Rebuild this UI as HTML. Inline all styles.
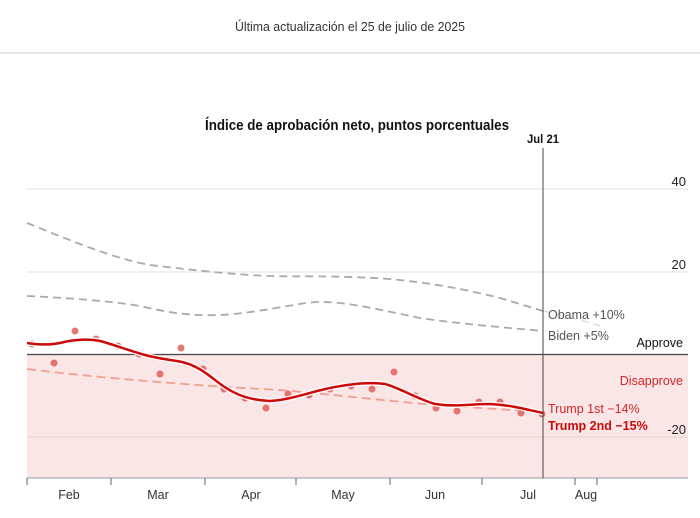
<!DOCTYPE html>
<html><head><meta charset="utf-8"><style>
html,body{margin:0;padding:0;background:#fff;}
svg{display:block;font-family:"Liberation Sans",sans-serif;}
</style></head><body>
<svg width="700" height="518" viewBox="0 0 700 518" xmlns="http://www.w3.org/2000/svg">
<rect width="700" height="518" fill="#fff"/>
<text x="350" y="31" font-size="13" fill="#333" text-anchor="middle" textLength="230" lengthAdjust="spacingAndGlyphs">Última actualización el 25 de julio de 2025</text>
<rect x="0" y="52" width="700" height="2" fill="#e6e6e6"/>
<text x="357" y="130" font-size="14.5" fill="#111" font-weight="bold" text-anchor="middle" textLength="304" lengthAdjust="spacingAndGlyphs">Índice de aprobación neto, puntos porcentuales</text>
<text x="543" y="143" font-size="12" fill="#111" font-weight="bold" text-anchor="middle" textLength="32" lengthAdjust="spacingAndGlyphs">Jul 21</text>
<!-- pink region -->
<rect x="27" y="355" width="661" height="123" fill="#fae6e6"/>
<!-- grid -->
<line x1="27" y1="189" x2="688" y2="189" stroke="#e2e2e2" stroke-width="1"/>
<line x1="27" y1="272" x2="688" y2="272" stroke="#e2e2e2" stroke-width="1"/>
<line x1="27" y1="437" x2="688" y2="437" stroke="#e8d2d2" stroke-width="1"/>
<line x1="27" y1="354.5" x2="688" y2="354.5" stroke="#444" stroke-width="1.2"/>
<!-- axis -->
<line x1="27" y1="478" x2="688" y2="478" stroke="#999" stroke-width="1"/>
<g stroke="#666" stroke-width="1">
<line x1="27" y1="478" x2="27" y2="485"/><line x1="111" y1="478" x2="111" y2="485"/><line x1="205" y1="478" x2="205" y2="485"/><line x1="296" y1="478" x2="296" y2="485"/><line x1="390" y1="478" x2="390" y2="485"/><line x1="482" y1="478" x2="482" y2="485"/><line x1="575" y1="478" x2="575" y2="485"/><line x1="597" y1="478" x2="597" y2="485"/>
</g>
<g font-size="12.5" fill="#333" text-anchor="middle">
<text x="69" y="499">Feb</text><text x="158" y="499">Mar</text><text x="251" y="499">Apr</text><text x="343" y="499">May</text><text x="435" y="499">Jun</text><text x="528" y="499">Jul</text><text x="586" y="499">Aug</text>
</g>
<!-- y labels -->
<g font-size="13" fill="#222" text-anchor="end">
<text x="686" y="186">40</text><text x="686" y="269">20</text><text x="686" y="434">-20</text>
<text x="683" y="347" font-size="12.5" fill="#111">Approve</text>
<text x="683" y="385" font-size="12.5" fill="#d0262a">Disapprove</text>
</g>
<!-- comparison lines -->
<path d="M27,223 C60,236 110,258 150,265 C200,271 240,275 270,276 C300,277 330,275 390,279 C430,283 460,288 500,298 C520,304 533,308 543,311" fill="none" stroke="#aaa" stroke-width="1.8" stroke-dasharray="8,5"/>
<path d="M543,311 C565,316 585,321 600,326" fill="none" stroke="#ddd" stroke-width="1.5" stroke-dasharray="8,5"/>
<path d="M27,296 C70,298 110,301 140,306 C170,313 190,316 220,315 C260,313 300,302 320,302 C350,302 380,310 420,318 C460,324 510,328 543,331" fill="none" stroke="#aaa" stroke-width="1.8" stroke-dasharray="8,5"/>
<path d="M27,369 C100,378 200,386 280,390 C350,396 420,405 480,408 C510,410 530,411 543,412" fill="none" stroke="#f0a090" stroke-width="1.8" stroke-dasharray="9,5"/>
<!-- dots -->
<g fill="#e0605a" opacity="0.85">
<circle cx="32" cy="344" r="3.5"/><circle cx="54" cy="363" r="3.5"/><circle cx="75" cy="331" r="3.5"/><circle cx="96" cy="339" r="3.5"/><circle cx="118" cy="346" r="3.5"/><circle cx="139" cy="354" r="3.5"/><circle cx="160" cy="374" r="3.5"/><circle cx="181" cy="348" r="3.5"/><circle cx="203" cy="369" r="3.5"/><circle cx="224" cy="389" r="3.5"/><circle cx="245" cy="398" r="3.5"/><circle cx="266" cy="408" r="3.5"/><circle cx="288" cy="394" r="3.5"/><circle cx="309" cy="395" r="3.5"/><circle cx="330" cy="389" r="3.5"/><circle cx="351" cy="386" r="3.5"/><circle cx="372" cy="389" r="3.5"/><circle cx="394" cy="372" r="3.5"/><circle cx="415" cy="396" r="3.5"/><circle cx="436" cy="408" r="3.5"/><circle cx="457" cy="411" r="3.5"/><circle cx="479" cy="402" r="3.5"/><circle cx="500" cy="402" r="3.5"/><circle cx="521" cy="413" r="3.5"/><circle cx="542" cy="414" r="3.5"/>
</g>
<!-- trump 2nd -->
<path d="M27,343 C40,345 50,345 60,343 C75,339 90,339 100,341 C115,345 130,351 145,355 C160,359 172,360 182,362 C195,365 205,372 215,380 C230,392 245,400 270,401 C290,400 310,392 330,388 C350,384 370,382 385,384 C400,388 415,398 435,404 C455,407 470,404 490,404 C510,405 525,409 543,413" fill="none" stroke="#fff" stroke-width="5"/>
<path d="M27,343 C40,345 50,345 60,343 C75,339 90,339 100,341 C115,345 130,351 145,355 C160,359 172,360 182,362 C195,365 205,372 215,380 C230,392 245,400 270,401 C290,400 310,392 330,388 C350,384 370,382 385,384 C400,388 415,398 435,404 C455,407 470,404 490,404 C510,405 525,409 543,413" fill="none" stroke="#cc0a0a" stroke-width="2.5"/>
<!-- vertical line -->
<line x1="543" y1="148" x2="543" y2="478" stroke="#444" stroke-width="1"/>
<!-- labels -->
<g font-size="12.5">
<text x="548" y="319" fill="#555">Obama +10%</text>
<text x="548" y="340" fill="#555">Biden +5%</text>
<text x="548" y="413" fill="#d0262a">Trump 1st −14%</text>
<text x="548" y="430" fill="#cc0a0a" font-weight="bold">Trump 2nd −15%</text>
</g>
</svg>
</body></html>
